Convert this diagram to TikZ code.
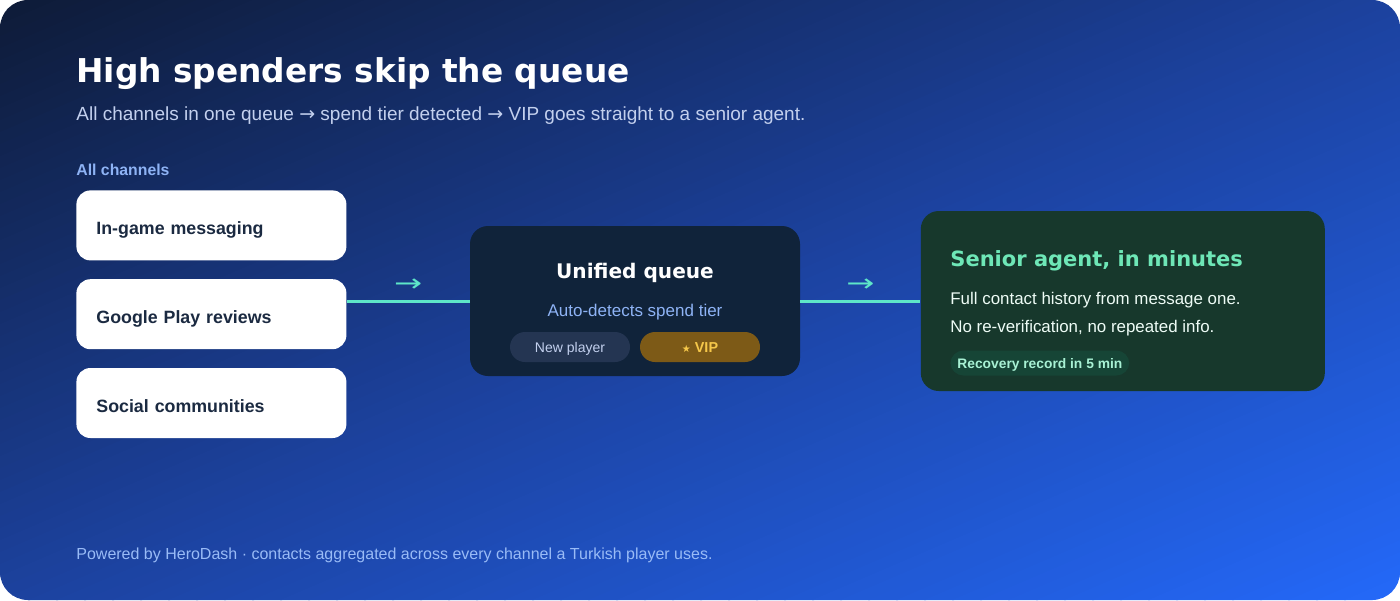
\documentclass[tikz,border=0pt]{standalone}
\usepackage{fontspec}
\setmainfont{Liberation Sans}
\newfontfamily\symfont{DejaVu Sans}
\newfontfamily\headfont{DejaVu Sans Bold}
\usetikzlibrary{positioning}
\definecolor{BgDark}{HTML}{0E1B38}
\definecolor{BgMid}{HTML}{1C429F}
\definecolor{BgEnd}{HTML}{2469FA}
\definecolor{SubText}{HTML}{C3D0EE}
\definecolor{LabBlue}{HTML}{8EB3F5}
\definecolor{InkDark}{HTML}{1B2A41}
\definecolor{Mint}{HTML}{5EE6C8}
\definecolor{QueueFill}{HTML}{10233A}
\definecolor{PillSlate}{HTML}{243552}
\definecolor{PillGold}{HTML}{7D5A17}
\definecolor{GoldText}{HTML}{F6C84A}
\definecolor{AgentFill}{HTML}{17382C}
\definecolor{AgentMint}{HTML}{6EE7B7}
\definecolor{BadgeFill}{HTML}{164536}

\begin{document}
\begin{tikzpicture}[x=0.5pt,y=-0.5pt,
  chan/.style={fill=white,rounded corners=7pt,minimum width=135pt,minimum height=35pt,text width=115pt,inner xsep=10pt,inner ysep=0pt,text height=9.3pt,text depth=0pt,align=left,text=InkDark,font=\fontsize{8.9}{10}\selectfont\bfseries},
  card/.style={rounded corners=9pt,inner sep=0pt},
  pill/.style={rounded corners=7.5pt,minimum width=60pt,minimum height=15pt,inner sep=0pt,text height=5.6pt,text depth=0pt,font=\fontsize{7}{8}\selectfont},
  conn/.style={Mint,line width=1.5pt},
  glyph/.style={text=Mint,font=\fontsize{12}{12}\symfont,inner sep=0pt}]
  \useasboundingbox (0,0) rectangle (1400,600);
  % backdrop, diagonal bands
  \begin{scope}
    \clip[rounded corners=14pt] (0,0) rectangle (1400,600);
    \foreach \i in {0,...,99}{
      \pgfmathsetmacro\pa{28*\i}
      \pgfmathsetmacro\pb{28*\i+30}
      \ifnum\i<50
        \pgfmathsetmacro\mix{2*\i}\colorlet{band}{BgMid!\mix!BgDark}
      \else
        \pgfmathsetmacro\mix{2*(\i-50)}\colorlet{band}{BgEnd!\mix!BgMid}
      \fi
      \fill[band] (\pa,0) -- (\pb,0) -- (\pb-1400,600) -- (\pa-1400,600) -- cycle;
    }
  \end{scope}

  % heading
  \node[anchor=base west,inner sep=0pt,text=white,font=\fontsize{16.4}{20}\headfont] (ttl) at (76,82) {High spenders skip the queue};
  \node[anchor=base west,inner sep=0pt,text=SubText,font=\fontsize{9.5}{11}\selectfont] (sub) at (76,120) {All channels in one queue {\symfont →} spend tier detected {\symfont →} VIP goes straight to a senior agent.};

  % channels
  \node[anchor=base west,inner sep=0pt,text=LabBlue,font=\fontsize{7.9}{9}\selectfont\bfseries] (lab) at (76,175) {All channels};
  \node[chan,anchor=north west] (ig) at (76,190) {In-game messaging};
  \node[chan,below=9pt of ig] (gp) {Google Play reviews};
  \node[chan,below=9pt of gp] (sc) {Social communities};

  % unified queue
  \node[card,fill=QueueFill,minimum width=165pt,minimum height=75pt] (q) at (635,301) {};
  \node[anchor=base,inner sep=0pt,text=white,font=\fontsize{10.05}{12}\headfont] (qt) at (635,278) {Unified queue};
  \node[anchor=base,inner sep=0pt,text=LabBlue,font=\fontsize{8.5}{10}\selectfont] (qs) at (635,316) {Auto-detects spend tier};
  \node[pill,fill=PillSlate,text=SubText] (np) at (570,347) {New player};
  \node[pill,fill=PillGold,text=GoldText,font=\fontsize{7.2}{8}\selectfont\bfseries] (vip) at (700,347) {{\symfont\fontsize{5}{5}\selectfont ★}\ VIP};

  % senior agent
  \node[card,fill=AgentFill,minimum width=202pt,minimum height=90pt,right=60pt of q] (ag) {};
  \node[anchor=base west,inner sep=0pt,text=AgentMint,font=\fontsize{10.5}{13}\headfont] (at) at (950,266) {Senior agent, in minutes};
  \node[anchor=base west,inner sep=0pt,text=white!88!AgentMint,font=\fontsize{8.45}{10}\selectfont] (a1) at (950,304) {Full contact history from message one.};
  \node[anchor=base west,inner sep=0pt,text=white!88!AgentMint,font=\fontsize{8.45}{10}\selectfont] (a2) at (950,332) {No re-verification, no repeated info.};
  \node[rounded corners=6.5pt,fill=BadgeFill,text=AgentMint!60!white,inner xsep=3.5pt,inner ysep=0pt,minimum height=12.5pt,text height=5pt,text depth=0pt,font=\fontsize{6.9}{8}\selectfont\bfseries,anchor=west] (rec) at (950,363) {Recovery record in 5 min};

  % connectors
  \draw[conn] (q.west -| gp.east) -- node[glyph,midway,above=4pt] {\scalebox{1.4}[1]{→}} (q.west);
  \draw[conn] (q.east) -- node[glyph,midway,above=4pt] {\scalebox{1.4}[1]{→}} (ag.west);

  \node[anchor=base west,inner sep=0pt,text=LabBlue!90!white,font=\fontsize{8}{9}\selectfont] (foot) at (76,559) {Powered by HeroDash · contacts aggregated across every channel a Turkish player uses.};
\end{tikzpicture}
\end{document}
